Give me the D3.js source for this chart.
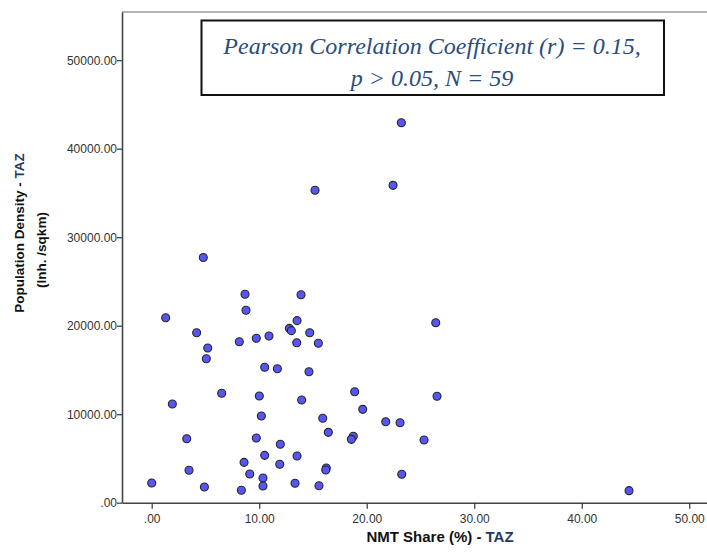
<!DOCTYPE html>
<html><head><meta charset="utf-8">
<script src="https://cdn.jsdelivr.net/npm/d3@7"></script>
<style>body{margin:0;background:#fff}</style>
</head><body>
<svg id="c" width="707" height="553"></svg>
<script>
const nmtShare = [4.8,8.68,13.89,8.77,1.30,13.52,12.80,12.99,14.70,4.18,10.91,9.73,8.15,13.49,15.50,5.21,5.08,10.51,11.69,14.63,18.88,6.51,10.01,13.95,1.92,19.63,10.20,15.91,21.77,16.43,18.75,18.57,3.26,9.73,11.96,10.51,13.52,8.59,11.91,16.24,16.19,3.47,9.12,10.35,0.0,13.33,10.35,15.56,4.90,8.34,26.42,26.54,23.10,25.33,23.26,44.40,23.22,15.19,22.45];
const popDensity = [27700,23560,23500,21740,20900,20570,19700,19440,19210,19210,18840,18580,18190,18080,18010,17480,16270,15300,15140,14800,12540,12360,12060,11600,11150,10550,9800,9540,9150,7950,7500,7160,7230,7310,6600,5350,5280,4560,4340,3920,3700,3660,3240,2790,2230,2190,1890,1920,1770,1400,20340,12020,9040,7080,3210,1360,42940,35300,35860];
const xTicks = [0,10,20,30,40,50];
const yTicks = [0,10000,20000,30000,40000,50000];
const fmt = v => v === 0 ? ".00" : v.toFixed(2);

const svg = d3.select("#c");
const x = d3.scaleLinear().domain([-2.763, 51.93]).range([122, 710]);
const y = d3.scaleLinear().domain([0, 55446]).range([502.7, 12]);

// top frame line
svg.append("line").attr("x1",122).attr("x2",707).attr("y1",12).attr("y2",12)
  .attr("stroke","#9a9a9a").attr("stroke-width",1.5);

const xa = svg.append("g").attr("transform","translate(0,502.7)")
  .call(d3.axisBottom(x).tickValues(xTicks).tickFormat(fmt).tickSize(6).tickSizeOuter(0));
const ya = svg.append("g").attr("transform","translate(122,0)")
  .call(d3.axisLeft(y).tickValues(yTicks).tickFormat(fmt).tickSize(5).tickSizeOuter(0));
[xa,ya].forEach(g=>{
  g.select(".domain").attr("stroke","#444").attr("stroke-width",1.6);
  g.selectAll(".tick line").attr("stroke","#444").attr("stroke-width",1.3);
  g.selectAll(".tick text").attr("fill","#333").style("font-family","'Liberation Sans',Arial,sans-serif").style("font-size","12px");
});
xa.selectAll(".tick text").attr("dy","0.95em");
ya.selectAll(".tick text").attr("x",-5);

// points
svg.append("g").selectAll("circle").data(nmtShare.map((v,i)=>[v,popDensity[i]]))
  .join("circle").attr("cx",d=>x(d[0])).attr("cy",d=>y(d[1])).attr("r",4)
  .attr("fill","#5656f4").attr("stroke","#262626").attr("stroke-width",1.1);

// axis titles
const tf = "'Liberation Sans Narrow','Arial Narrow','Liberation Sans',Arial,sans-serif";
const xt = svg.append("text").attr("x",440).attr("y",542).attr("text-anchor","middle")
  .style("font-family",tf).style("font-weight","bold").style("font-size","15px");
xt.append("tspan").attr("fill","#111").text("NMT Share (%) - ");
xt.append("tspan").attr("fill","#1f3864").text("TAZ");

const yt = svg.append("text").attr("transform","translate(24,233) rotate(-90)").attr("text-anchor","middle")
  .style("font-family","'Liberation Sans',Arial,sans-serif").style("font-weight","bold").style("font-size","13.5px");
yt.append("tspan").attr("fill","#111").text("Population Density  - ");
yt.append("tspan").attr("fill","#1f3864").text("TAZ");
svg.append("text").attr("transform","translate(46,250) rotate(-90)").attr("text-anchor","middle")
  .style("font-family","'Liberation Sans',Arial,sans-serif").style("font-weight","bold").style("font-size","13.5px")
  .attr("fill","#111").text("(Inh. /sqkm)");

// annotation box
svg.append("rect").attr("x",201.5).attr("y",20.5).attr("width",462.5).attr("height",74.5)
  .attr("fill","#fff").attr("stroke","#111").attr("stroke-width",2);
const bf = "'Liberation Serif','Times New Roman',serif";
svg.append("text").attr("x",432).attr("y",54).attr("text-anchor","middle")
  .style("font-family",bf).style("font-style","italic").style("font-size","24px").attr("fill","#2b4c7e")
  .text("Pearson Correlation Coefficient (r) = 0.15,");
svg.append("text").attr("x",432).attr("y",86).attr("text-anchor","middle")
  .style("font-family",bf).style("font-style","italic").style("font-size","24px").attr("fill","#2b4c7e")
  .text("p > 0.05, N = 59");
</script>
</body></html>
